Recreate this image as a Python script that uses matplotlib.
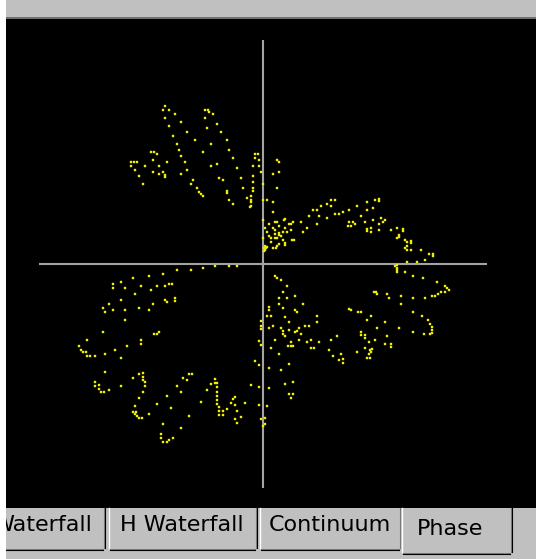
import numpy as np
import matplotlib.pyplot as plt
from matplotlib.patches import Rectangle

# Phase (X/Y) scope samples, in screen units measured from the centre of the cross
upper_left = [
    (-98, 158), (-100, 154), (-94, 154), (-88, 150), (-98, 146), (-82, 142), (-94, 138), (-76, 132),
    (-90, 128), (-68, 124), (-86, 120), (-84, 114), (-60, 112), (-82, 108), (-78, 102), (-76, 94),
    (-82, 90), (-70, 84), (-72, 80), (-66, 76), (-64, 72), (-62, 70), (-60, 68),
    (-58, 154), (-55, 154), (-54, 152), (-50, 150), (-58, 146), (-46, 140), (-56, 136), (-42, 132),
    (-36, 124), (-52, 120), (-34, 114), (-30, 106), (-46, 100), (-52, 98), (-26, 96), (-44, 86),
    (-40, 84), (-22, 86), (-20, 76), (-36, 73), (-36, 71), (-16, 66), (-34, 64), (-30, 60),
    (-112, 112), (-109, 112), (-106, 110), (-110, 104), (-96, 102), (-132, 102), (-129, 102),
    (-126, 102), (-132, 98), (-118, 98), (-104, 98), (-128, 94), (-110, 92), (-100, 92), (-104, 90),
    (-98, 89), (-98, 87), (-124, 88), (-120, 80),
    (-8, 110), (-5, 110), (-8, 106), (-4, 104), (-10, 98), (-4, 98), (-2, 92), (-10, 88), (-10, 82),
    (-10, 76), (-10, 73), (-12, 68), (-12, 64), (-12, 62), (-13, 57), (-12, 58),
    (0, 80), (0, 64), (0, 44), (0, 26),
]
upper_right = [
    (4, 64), (10, 62), (10, 52), (14, 104), (16, 102), (10, 90), (16, 92), (14, 76), (22, 45),
    (6, 40), (12, 42), (14, 42), (21, 44), (26, 40), (28, 40), (30, 42), (2, 36), (10, 36), (16, 38),
    (22, 36), (4, 32), (12, 34), (20, 32), (24, 32), (28, 34), (12, 30), (16, 31), (16, 29), (6, 28),
    (18, 28), (8, 26), (12, 26), (14, 26), (20, 24), (8, 22), (16, 20), (22, 21), (22, 19), (29, 24),
    (31, 24), (14, 18), (2, 18), (1, 16), (3, 16), (1, 13), (4, 17), (2, 14), (10, 16), (13, 16),
    (38, 42), (40, 32), (44, 36), (46, 48), (50, 54), (54, 54), (54, 40), (56, 48), (58, 58),
    (64, 60), (64, 46), (68, 64), (72, 64), (68, 58), (72, 50), (76, 50), (80, 52), (86, 54),
    (94, 58), (98, 48), (85, 38), (88, 38), (86, 42), (90, 42), (92, 40), (102, 42), (104, 62),
    (104, 54), (104, 35), (104, 33), (108, 36), (108, 32), (110, 56), (112, 64), (116, 65),
    (116, 63), (110, 44), (116, 40), (116, 34), (118, 46), (120, 42), (122, 44), (128, 34),
    (134, 36), (140, 35), (140, 33), (136, 29), (136, 27), (134, 26), (142, 24), (144, 22),
    (148, 23), (148, 21), (142, 16), (144, 18), (144, 14), (148, 14), (158, 14), (166, 10),
    (170, 10), (170, 8), (162, 4), (154, 2), (144, 2),
]
lower_right = [
    (132, -2), (134, -1), (134, -4), (134, -6), (134, -8), (142, -8), (150, -12), (160, -14),
    (174, -18), (182, -22), (184, -24), (186, -26), (111, -28), (113, -28), (114, -30), (124, -30),
    (126, -34), (138, -32), (150, -34), (162, -34), (169, -32), (172, -32), (178, -28), (182, -28),
    (175, -30), (159, -52), (165, -56), (167, -60), (169, -63), (169, -66), (169, -69), (161, -70),
    (167, -70), (138, -40), (150, -48), (150, -68), (136, -64), (124, -72), (122, -58), (122, -80),
    (128, -80), (128, -83), (114, -64), (112, -76), (108, -52), (104, -56), (106, -78), (102, -84),
    (107, -86), (109, -85), (108, -88), (106, -90), (104, -94), (107, -94), (98, -68), (98, -71),
    (102, -71), (102, -74), (94, -88), (86, -45), (88, -46), (95, -48), (98, -48), (74, -72),
    (68, -76), (66, -86), (70, -92), (78, -90), (76, -96), (80, -95), (80, -99), (56, -78),
    (48, -76), (44, -78), (54, -52), (54, -58), (46, -62), (42, -62), (48, -84), (51, -84),
    (40, -40), (38, -70), (36, -76), (36, -64), (34, -67), (32, -68), (34, -48), (32, -46),
    (30, -82), (25, -82), (28, -82), (28, -78), (26, -58), (26, -66), (26, -100), (22, -53),
    (22, -72), (20, -67), (20, -70), (18, -64), (20, -44), (20, -28), (24, -22), (24, -34),
    (16, -34), (16, -40), (32, -32), (12, -12), (14, -14), (18, -16), (6, -43), (6, -46), (4, -52),
    (8, -52), (6, -64), (10, -62), (12, -76), (8, -84), (16, -90), (18, -106), (6, -104),
    (22, -120), (30, -118), (6, -124), (26, -130), (30, -130), (28, -134), (4, -142), (2, -154),
    (2, -160), (0, -162),
]
lower_left = [
    (-86, -6), (-72, -6), (-60, -4), (-48, -2), (-34, -2), (-26, -2), (-100, -10), (-114, -12),
    (-130, -14), (-142, -18), (-150, -20), (-150, -24), (-138, -24), (-122, -22), (-112, -26),
    (-106, -22), (-98, -22), (-94, -20), (-91, -20), (-128, -30), (-142, -36), (-154, -40),
    (-160, -44), (-158, -48), (-150, -46), (-138, -46), (-124, -44), (-114, -46), (-110, -40),
    (-98, -36), (-96, -38), (-88, -34), (-88, -37), (-138, -56), (-160, -68), (-109, -70),
    (-106, -70), (-104, -68), (-122, -76), (-122, -80), (-176, -76), (-184, -82), (-182, -86),
    (-180, -88), (-177, -88), (-176, -92), (-173, -92), (-168, -92), (-158, -90), (-148, -86),
    (-136, -82), (-142, -94), (-158, -108), (-168, -118), (-168, -122), (-164, -121), (-164, -125),
    (-162, -128), (-159, -128), (-154, -126), (-142, -122), (-130, -114), (-124, -110),
    (-120, -109), (-120, -113), (-120, -116), (-118, -118), (-118, -122), (-120, -128),
    (-124, -134), (-128, -142), (-130, -148), (-127, -148), (-128, -150), (-126, -152),
    (-124, -154), (-121, -154), (-114, -150), (-106, -140), (-96, -132), (-100, -160),
    (-102, -170), (-102, -174), (-100, -178), (-96, -178), (-94, -176), (-90, -174), (-82, -164),
    (-92, -144), (-74, -152), (-82, -128), (-86, -122), (-80, -114), (-76, -116), (-74, -110),
    (-71, -110), (-62, -138), (-56, -126), (-52, -120), (-48, -115), (-48, -119), (-46, -119),
    (-46, -123), (-46, -128), (-46, -132), (-46, -136), (-46, -140), (-44, -143), (-44, -147),
    (-44, -151), (-40, -147), (-40, -151), (-36, -145), (-32, -139), (-30, -135), (-28, -133),
    (-28, -141), (-26, -147), (-28, -155), (-26, -159), (-22, -153), (-18, -139), (-12, -121),
    (-4, -123), (-4, -141), (-2, -155), (-8, -97), (-4, -101), (-4, -77), (-2, -81), (-2, -57),
    (-2, -62), (-2, -65),
]

tab_labels = ['Waterfall', 'H Waterfall', 'Continuum', 'Phase']
active_tab = 'Phase'
cross_half = 224

W, H = 536, 559
fig = plt.figure(figsize=(W / 100, H / 100), dpi=100, facecolor='#c0c0c0')

#
# Black scope area, the cross sits at (0, 0)
ax = fig.add_axes([6 / W, (H - 508) / H, (W - 6) / W, (508 - 19) / H])
ax.set_facecolor('black')
ax.set_xlim(-257, 273)
ax.set_ylim(-244, 245)
ax.set_xticks([])
ax.set_yticks([])
for sp in ax.spines.values():
    sp.set_visible(False)

ax.plot([-cross_half, cross_half], [0, 0], color='#a4a4a4', lw=1.5, solid_capstyle='butt')
ax.plot([0, 0], [-cross_half, cross_half], color='#a4a4a4', lw=1.5, solid_capstyle='butt')

pts = np.array(upper_left + upper_right + lower_right + lower_left, dtype=float)
ax.scatter(pts[:, 0], pts[:, 1], s=3.6, marker='s', c='#ffff00',
           edgecolors='#d8d800', linewidths=0.3, zorder=3)

#
# Window chrome drawn in pixel coordinates on top
ui = fig.add_axes([0, 0, 1, 1])
ui.set_xlim(0, W)
ui.set_ylim(H, 0)
ui.axis('off')

ui.plot([0, W], [17.5, 17.5], color='#6e6e6e', lw=1.4)

tab_left = [-10, 108, 259, 401]
tab_right = [105, 257, 401, 512]
tab_text_x = [92, 182, 330, 450]
for i, label in enumerate(tab_labels):
    x0, x1 = tab_left[i], tab_right[i]
    bottom = 554 if label == active_tab else 550
    base = 535 if label == active_tab else 531
    z = 5 if label == active_tab else 3
    ui.add_patch(Rectangle((x0, 508), x1 - x0, bottom - 508, facecolor='#c0c0c0',
                           edgecolor='none', zorder=z))
    ui.plot([x0 + 0.5, x0 + 0.5], [508, bottom - 2], color='white', lw=1, zorder=z)
    ui.plot([x1 - 1.5, x1 - 1.5], [508, bottom - 2], color='#808080', lw=0.8, zorder=z)
    ui.plot([x1 - 0.5, x1 - 0.5], [508, bottom - 2], color='black', lw=0.8, zorder=z)
    ui.plot([x0 + 2, x1 - 2], [bottom - 1.5, bottom - 1.5], color='#808080', lw=0.8, zorder=z)
    ui.plot([x0 + 2, x1 - 2], [bottom - 0.5, bottom - 0.5], color='black', lw=0.8, zorder=z)
    ui.text(tab_text_x[i], base, label, ha='right' if i == 0 else 'center',
            va='baseline', fontsize=16, family='DejaVu Sans', color='black', zorder=z + 1)

# the first tab runs off the left edge of the window
ui.add_patch(Rectangle((0, 0), 6, H, facecolor='white', edgecolor='none', zorder=10))

fig.savefig('out.png', dpi=100, facecolor=fig.get_facecolor())
